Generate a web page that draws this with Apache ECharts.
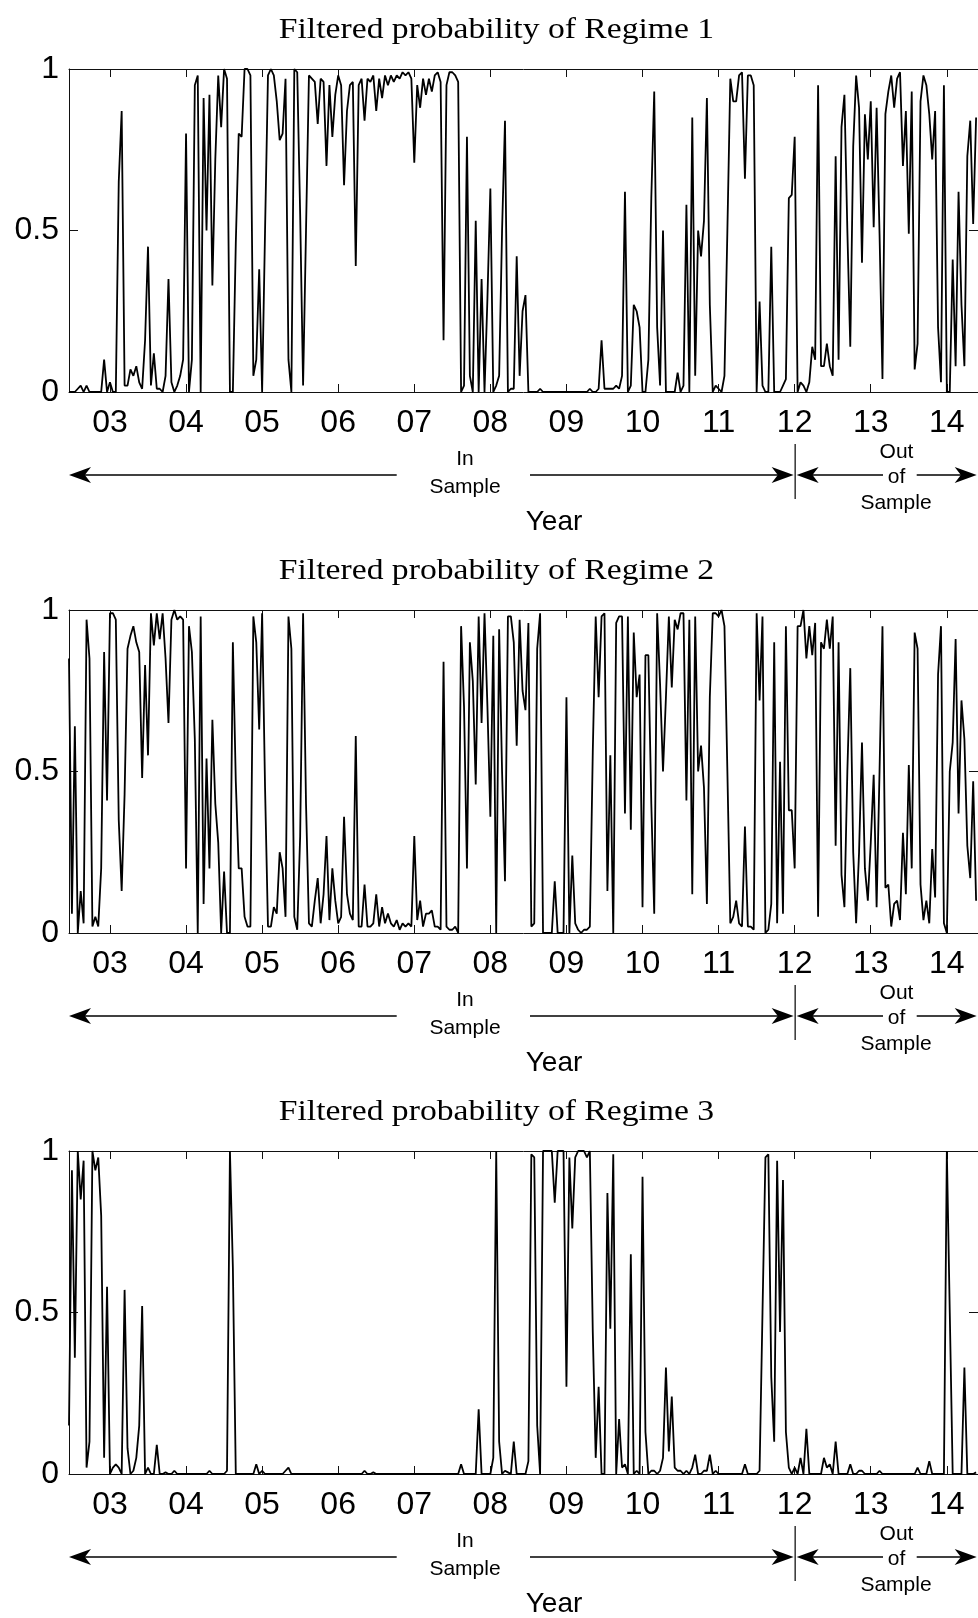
<!DOCTYPE html>
<html><head><meta charset="utf-8">
<script src="https://cdn.jsdelivr.net/npm/echarts@6/dist/echarts.min.js"></script>
<style>html,body{margin:0;padding:0;background:#fff}#c{width:978px;height:1618px}</style>
</head><body><div id="c"></div>
<script>
// ---- data (biweekly observations starting mid-2002) ----
const START_YEAR = 2002.462;
const STEP = 1 / 26;
const X_MIN = 2002.462, X_MAX = 2014.41;
const SPLIT_YEAR = 2012;
const YEAR_TICKS = [2003, 2004, 2005, 2006, 2007, 2008, 2009, 2010, 2011, 2012, 2013, 2014];
const TITLES = ['Filtered probability of Regime 1', 'Filtered probability of Regime 2', 'Filtered probability of Regime 3'];

const regime1 = [
0,0,0,0.01,0.02,0,0.02,0,0,0,
0,0,0.1,0,0.03,0,0,0.65,0.87,0.02,
0.02,0.07,0.05,0.08,0.03,0.01,0.16,0.45,0.02,0.12,
0.01,0.01,0,0.05,0.35,0.03,0,0.02,0.05,0.1,
0.8,0,0.1,0.95,0.98,0,0.91,0.5,0.92,0.33,
0.72,0.98,0.82,1,0.97,0,0,0.46,0.8,0.79,
1,1,0.98,0.05,0.1,0.38,0,0.5,0.98,1,
0.98,0.9,0.78,0.8,0.97,0.1,0,1,0.99,0.55,
0.02,0.5,0.98,0.97,0.96,0.83,0.97,0.96,0.7,0.95,
0.79,0.92,0.98,0.95,0.64,0.87,0.95,0.96,0.39,0.95,
0.97,0.84,0.97,0.96,0.98,0.87,0.97,0.91,0.98,0.95,
0.98,0.96,0.98,0.97,0.99,0.98,0.99,0.97,0.71,0.95,
0.88,0.97,0.92,0.97,0.93,0.98,0.99,0.96,0.16,0.95,
0.99,0.99,0.98,0.96,0,0.02,0.79,0.05,0,0.53,
0,0.35,0,0.29,0.63,0,0.02,0.05,0.5,0.84,
0,0.01,0.01,0.42,0.05,0.25,0.3,0,0,0,
0,0.01,0,0,0,0,0,0,0,0,
0,0,0,0,0,0,0,0,0.01,0,
0,0.01,0.16,0.01,0.01,0.01,0.01,0.02,0.01,0.05,
0.62,0,0.02,0.27,0.25,0.2,0,0,0.1,0.6,
0.93,0.2,0.02,0.5,0,0,0,0,0.06,0,
0.02,0.58,0,0.85,0.05,0.5,0.42,0.53,0.91,0.27,
0,0.02,0.01,0,0.05,0.5,0.97,0.9,0.9,0.98,
0.99,0.66,0.98,0.98,0.95,0,0.28,0.02,0,0,
0.45,0,0,0,0.02,0.04,0.6,0.61,0.79,0,
0.03,0.02,0,0.03,0.14,0.1,0.95,0.08,0.08,0.15,
0.08,0.05,0.73,0.1,0.82,0.92,0.5,0.14,0.76,0.98,
0.88,0.4,0.86,0.72,0.9,0.51,0.88,0.49,0.04,0.86,
0.93,0.98,0.88,0.97,0.99,0.7,0.87,0.49,0.93,0.07,
0.15,0.9,0.98,0.95,0.86,0.72,0.87,0.2,0.03,0.95,
0,0,0.41,0.08,0.62,0.27,0.08,0.73,0.84,0.52,0.85
];

const regime2 = [
0.85,0.06,0.64,0,0.13,0.03,0.97,0.85,0.02,0.05,
0.02,0.2,0.87,0.41,0.99,0.99,0.97,0.35,0.13,0.43,
0.88,0.92,0.95,0.9,0.87,0.48,0.83,0.55,0.99,0.89,
0.99,0.91,0.99,0.85,0.65,0.97,1,0.97,0.98,0.97,
0.2,0.95,0.87,0.6,0,0.98,0.09,0.54,0.2,0.66,
0.4,0.28,0,0.19,0,0,0.9,0.47,0.2,0.2,
0.05,0.02,0.02,0.98,0.9,0.63,0.99,0.45,0.02,0.02,
0.08,0.06,0.25,0.2,0.05,0.98,0.88,0.05,0.01,0.3,
0.99,0.4,0.03,0.02,0.1,0.17,0.03,0.12,0.3,0.04,
0.2,0.1,0.03,0.05,0.36,0.12,0.06,0.04,0.61,0.02,
0.02,0.15,0.02,0.02,0.03,0.12,0.02,0.08,0.03,0.06,
0.03,0.02,0.04,0.01,0.03,0.02,0.03,0.02,0.3,0.04,
0.1,0.02,0.06,0.06,0.07,0.02,0.02,0.01,0.84,0.02,
0.01,0.01,0.02,0,0.95,0.7,0.2,0.9,0.78,0.46,
0.98,0.65,0.99,0.7,0.36,0.92,0,0.94,0.5,0.16,
0.98,0.98,0.9,0.58,0.97,0.75,0.69,0.96,0.02,0.03,
0.88,0.99,0,0,0,0,0.16,0,0,0,
0.73,0,0.24,0.03,0.01,0,0.01,0.01,0.02,0.56,
0.98,0.73,0.98,0.99,0.13,0.55,0,0.96,0.98,0.98,
0.37,0.98,0.32,0.93,0.73,0.8,0.08,0.86,0.86,0.4,
0.06,0.99,0.77,0.5,0.73,0.98,0.76,0.97,0.94,0.99,
0.99,0.41,0.97,0.12,0.98,0.5,0.58,0.45,0.09,0.73,
0.99,0.99,0.98,1,0.95,0.5,0.03,0.05,0.1,0.03,
0.02,0.33,0.02,0.02,0.01,0.99,0.72,0.98,0,0.01,
0.09,0.9,0.03,0.53,0.06,0.95,0.38,0.38,0.2,0.95,
0.95,1,0.85,0.95,0.86,0.96,0.05,0.9,0.88,0.97,
0.88,0.98,0.27,0.9,0.18,0.08,0.5,0.82,0.25,0.03,
0.25,0.59,0.2,0.1,0.28,0.49,0.08,0.5,0.95,0.14,
0.15,0.02,0.09,0.1,0.04,0.31,0.12,0.52,0.2,0.93,
0.88,0.15,0.04,0.1,0.03,0.26,0.11,0.8,0.95,0.03,
0,0.5,0.59,0.91,0.37,0.72,0.6,0.27,0.17,0.47,0.1
];

const regime3 = [
0.15,0.94,0.36,1,0.85,0.97,0.02,0.1,1,0.94,
0.98,0.8,0.05,0.58,0,0.02,0.03,0.02,0,0.57,
0.08,0,0.01,0.05,0.15,0.52,0,0.02,0,0,
0.09,0,0,0.005,0,0,0.01,0,0,0,
0,0,0,0,0,0,0,0,0.01,0,
0,0,0,0,0.01,1,0.64,0,0,0,
0,0,0,0,0.03,0,0.01,0,0,0,
0,0,0,0,0.01,0.02,0,0,0,0,
0,0,0,0,0,0,0,0,0,0,
0,0,0,0,0,0,0,0,0,0,
0,0.01,0,0,0.005,0,0,0,0,0,
0,0,0,0,0,0,0,0,0,0,
0,0,0,0,0,0,0,0,0,0,
0,0,0,0,0.03,0,0,0,0,0,
0.2,0,0,0,0,0.05,1,0.1,0,0.01,
0.005,0,0.1,0,0,0,0,0.04,0.99,0.98,
0.15,0,1,1,1,1,0.84,1,1,1,
0.27,0.98,0.76,0.98,1,1,1,0.98,1,0.44,
0.05,0.27,0,0,0.87,0.45,0.99,0,0.17,0.02,
0.03,0,0.68,0,0.01,0,0.92,0.13,0,0.01,
0.01,0,0.01,0.05,0.33,0.07,0.24,0.02,0.01,0.01,
0,0.01,0,0.02,0.06,0,0,0.01,0.01,0.06,
0,0.01,0,0,0,0,0,0,0,0,
0,0.03,0,0,0,0,0.01,0.5,0.98,0.99,
0.3,0.1,0.97,0.44,0.91,0.13,0.02,0,0.02,0,
0.05,0,0.14,0,0,0,0,0,0.05,0.02,
0.03,0,0.1,0,0,0,0,0.03,0,0,
0.01,0.01,0,0,0,0,0,0.01,0,0,
0,0,0,0,0,0,0,0,0,0,
0.02,0,0,0,0.04,0,0,0,0,0,
1,0.5,0,0,0,0,0.33,0,0,0,0.005
];

// ---- layout ----
const PANEL_TOP = [69, 610, 1151];
const PANEL_H = 323, LEFT = 69, WIDTH = 909, PANEL_DY = 541;
const SANS = '"Liberation Sans", Arial, Helvetica, sans-serif';
const SERIF = '"Liberation Serif", "Times New Roman", serif';

const chart = echarts.init(document.getElementById('c'), null, {renderer: 'canvas'});
const grids = [], xAxes = [], yAxes = [], series = [];
[regime1, regime2, regime3].forEach((vals, k) => {
  grids.push({left: LEFT, top: PANEL_TOP[k], width: WIDTH, height: PANEL_H, show: false});
  const lineStyle = {color: '#111', width: 1};
  const tick = {show: true, inside: true, length: 8, customValues: YEAR_TICKS, lineStyle: {color: '#111', width: 1}};
  xAxes.push({
    gridIndex: k, type: 'value', min: X_MIN, max: X_MAX, position: 'bottom',
    axisLine: {show: true, onZero: false, lineStyle},
    axisTick: tick, splitLine: {show: false},
    axisLabel: {show: true, customValues: YEAR_TICKS, formatter: v => String(Math.round(v) % 100).padStart(2, '0'),
      fontSize: 32, fontFamily: SANS, color: '#000', margin: 15}
  });
  xAxes.push({
    gridIndex: k, type: 'value', min: X_MIN, max: X_MAX, position: 'top',
    axisLine: {show: true, onZero: false, lineStyle},
    axisTick: tick, splitLine: {show: false},
    axisLabel: {show: false, customValues: YEAR_TICKS}
  });
  const ytick = {show: true, inside: true, length: 9, lineStyle: {color: '#111', width: 1}};
  yAxes.push({
    gridIndex: k, type: 'value', min: 0, max: 1, interval: 0.5, position: 'left',
    axisLine: {show: true, onZero: false, lineStyle}, axisTick: ytick, splitLine: {show: false},
    axisLabel: {show: true, fontSize: 32, fontFamily: SANS, color: '#000', margin: 10}
  });
  yAxes.push({
    gridIndex: k, type: 'value', min: 0, max: 1, interval: 0.5, position: 'right',
    axisLine: {show: true, onZero: false, lineStyle}, axisTick: ytick, splitLine: {show: false},
    axisLabel: {show: false}
  });
  series.push({
    type: 'line', xAxisIndex: 2 * k, yAxisIndex: 2 * k, symbol: 'none', showSymbol: false,
    data: vals.map((v, i) => [START_YEAR + i * STEP, v]),
    lineStyle: {color: '#000', width: 1.8}, silent: true, animation: false, clip: true
  });
});

chart.setOption({animation: false, backgroundColor: '#fff', grid: grids, xAxis: xAxes, yAxis: yAxes, series});

// ---- annotations ----
const graphics = [];
function txt(text, x, y, size, family, extra) {
  return Object.assign({type: 'text', x: x, y: y, silent: true,
    style: {text, fontSize: size, fontFamily: family, fill: '#000',
      align: 'center', verticalAlign: 'middle', textAlign: 'center', textVerticalAlign: 'middle'}}, extra || {});
}
function seg(x1, y1, x2, y2, w) {
  return {type: 'line', silent: true, shape: {x1, y1, x2, y2}, style: {stroke: '#000', lineWidth: w || 1.6}};
}
function head(tx, y, dir) {
  const L = 22, h = 8;
  return {type: 'polygon', silent: true,
    shape: {points: [[tx, y], [tx - dir * L, y - h], [tx - dir * L * 0.72, y], [tx - dir * L, y + h]]},
    style: {fill: '#000'}};
}
for (let k = 0; k < 3; k++) {
  const dy = PANEL_DY * k;
  const xL = chart.convertToPixel({xAxisIndex: 2 * k}, X_MIN);
  const xS = chart.convertToPixel({xAxisIndex: 2 * k}, SPLIT_YEAR);
  const yA = 475 + dy;
  graphics.push(txt(TITLES[k], 496.5, 30 + dy, 29, SERIF, {scaleX: 1.16, originX: 0, originY: 0}));
  graphics.push(seg(xL + 4, yA, 396.7, yA));
  graphics.push(head(xL, yA, -1));
  graphics.push(seg(530, yA, xS - 6, yA));
  graphics.push(head(xS - 1, yA, 1));
  graphics.push(seg(xS + 0.5, 444 + dy, xS + 0.5, 499 + dy, 1.2));
  graphics.push(head(xS + 2, yA, -1));
  graphics.push(seg(xS + 8, yA, 883, yA));
  graphics.push(seg(916.7, yA, 972, yA));
  graphics.push(head(976.7, yA, 1));
  graphics.push(txt('In', 465, 459 + dy, 21, SANS));
  graphics.push(txt('Sample', 465, 487 + dy, 21, SANS));
  graphics.push(txt('Out', 896.5, 452 + dy, 21, SANS));
  graphics.push(txt('of', 896.5, 477 + dy, 21, SANS));
  graphics.push(txt('Sample', 896, 503 + dy, 21, SANS));
  graphics.push(txt('Year', 554, 522 + dy, 28, SANS));
}
chart.setOption({graphic: graphics});
</script>
</body></html>
